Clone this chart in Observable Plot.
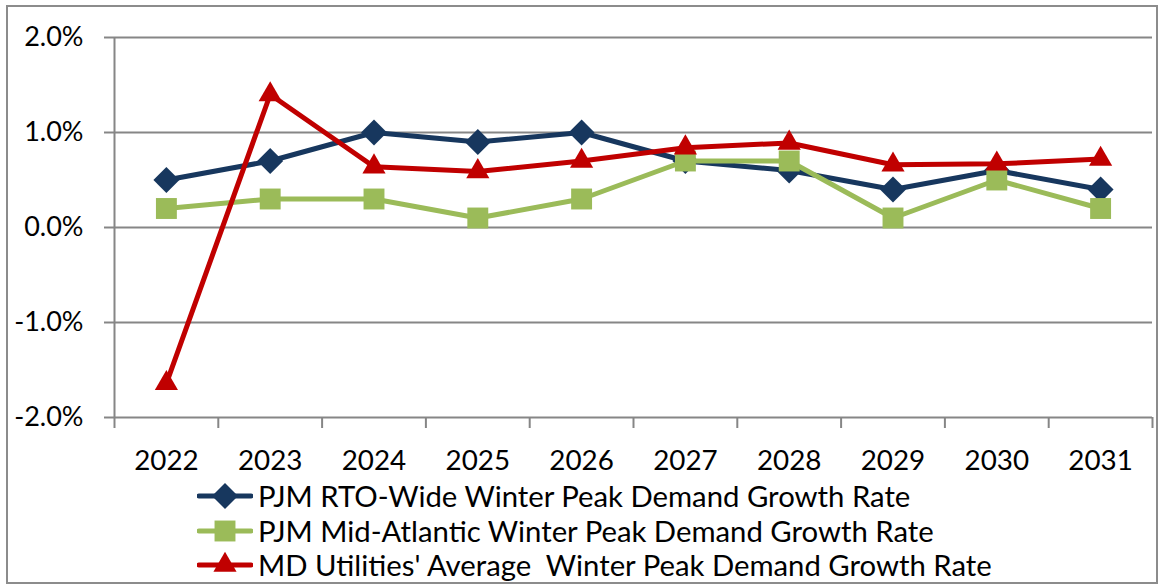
<!DOCTYPE html>
<html>
<head>
<meta charset="utf-8">
<script src="https://cdn.jsdelivr.net/npm/d3@7"></script>
<script src="https://cdn.jsdelivr.net/npm/@observablehq/plot@0.6"></script>
<style>
  html, body { margin: 0; padding: 0; background: #fff; }
  body { width: 1160px; height: 585px; position: relative; overflow: hidden; font-family: Lato, sans-serif; }
  #frame { position: absolute; left: 6px; top: 5px; width: 1152px; height: 579px; box-sizing: border-box; border: 2px solid #8c8c8c; }
  #chart { position: absolute; left: 0; top: 0; }
  #legend { position: absolute; left: 197px; top: 479px; }
  .row { display: flex; align-items: center; height: 34.5px; }
  .row svg { display: block; }
  .row span { white-space: pre; font-size: 29.3px; color: #000; margin-left: 5px; line-height: 34.5px; }
</style>
</head>
<body>
<div id="frame"></div>
<div id="chart"></div>
<div id="legend"></div>
<script>
// ---- data (percent) ----
const years = [2022, 2023, 2024, 2025, 2026, 2027, 2028, 2029, 2030, 2031];
const rtoWide = [0.5, 0.7, 1.0, 0.9, 1.0, 0.7, 0.6, 0.4, 0.6, 0.4];
const midAtlantic = [0.2, 0.3, 0.3, 0.1, 0.3, 0.7, 0.7, 0.1, 0.5, 0.2];
const mdUtilities = [-1.64, 1.40, 0.64, 0.59, 0.70, 0.84, 0.89, 0.66, 0.67, 0.72];
const yTicks = [-2, -1, 0, 1, 2];
const seriesNames = [
  "PJM RTO-Wide Winter Peak Demand Growth Rate",
  "PJM Mid-Atlantic Winter Peak Demand Growth Rate",
  "MD Utilities' Average  Winter Peak Demand Growth Rate"
];
const seriesColors = ["#17375E", "#9BBB59", "#C00000"];
const seriesSymbols = ["diamond2", "square", "triangle"];
const seriesRadius = [11.7, 11.8, 8.6];

const seriesValues = [rtoWide, midAtlantic, mdUtilities];
const tables = seriesValues.map((vals, s) => years.map((y, i) => ({year: y, value: vals[i], series: seriesNames[s]})));
const bounds = [years[0] - 0.5, ...years.map(y => y + 0.5)];
const grey = "#868686";

const marks = [
  Plot.gridY(yTicks, {stroke: grey, strokeOpacity: 1, strokeWidth: 2}),
  Plot.ruleX([bounds[0]], {stroke: grey, strokeWidth: 2}),
  Plot.axisY(yTicks, {label: null, tickSize: 10, tickPadding: 21, stroke: grey, strokeWidth: 2, fontSize: 27, fill: "#000", tickFormat: d => d.toFixed(1) + "%"}),
  Plot.axisX(bounds, {label: null, tickSize: 11, stroke: grey, strokeWidth: 2, tickFormat: () => ""}),
  Plot.axisX(years, {label: null, tickSize: 0, tickPadding: 33, fontSize: 27.8, fill: "#000", tickFormat: d => String(d)})
];
tables.forEach((t, s) => {
  marks.push(Plot.line(t, {x: "year", y: "value", stroke: seriesColors[s], strokeWidth: 5}));
  marks.push(Plot.dot(t, {x: "year", y: "value", symbol: () => seriesSymbols[s], fill: seriesColors[s], stroke: "none", r: seriesRadius[s]}));
});

const chart = Plot.plot({
  width: 1160,
  height: 480,
  marginLeft: 114,
  marginRight: 8,
  marginTop: 37,
  marginBottom: 63,
  style: {fontFamily: "Lato", background: "transparent", overflow: "visible"},
  x: {type: "linear", domain: [bounds[0], bounds[bounds.length - 1]], axis: null, label: null},
  y: {domain: [yTicks[0], yTicks[yTicks.length - 1]], axis: null, label: null},
  symbol: {type: "identity"},
  marks
});
document.getElementById("chart").appendChild(chart);

// ---- legend ----
const legend = d3.select("#legend");
const symMap = {diamond2: d3.symbolDiamond2, square: d3.symbolSquare, triangle: d3.symbolTriangle};
seriesNames.forEach((name, s) => {
  const row = legend.append("div").attr("class", "row");
  const svg = row.append("svg").attr("width", 56).attr("height", 34);
  svg.append("line").attr("x1", 2).attr("x2", 54).attr("y1", 17).attr("y2", 17)
    .attr("stroke", seriesColors[s]).attr("stroke-width", 5).attr("stroke-linecap", "round");
  svg.append("path").attr("transform", "translate(28,17)")
    .attr("d", d3.symbol(symMap[seriesSymbols[s]], Math.PI * seriesRadius[s] ** 2)())
    .attr("fill", seriesColors[s]);
  row.append("span").text(name);
});
</script>
</body>
</html>
